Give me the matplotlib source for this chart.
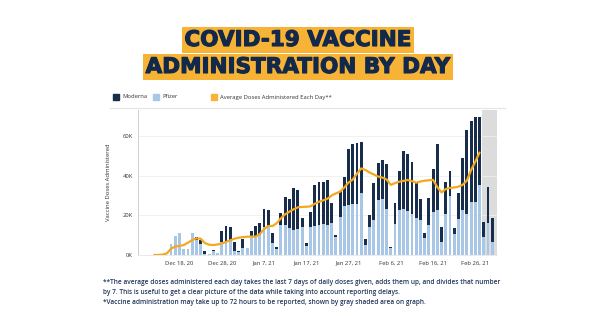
import numpy as np
import matplotlib
matplotlib.use("Agg")
import matplotlib.pyplot as plt
import matplotlib.dates as mdates
import matplotlib.patheffects as pe
from matplotlib.patches import Rectangle

# daily doses in thousands, first bar on 2020-12-16
first_day = np.datetime64("2020-12-16")
pfizer = [5.5, 9.5, 11, 3, 3, 11, 7.5, 5.5, 0.6, 0.3,
          1.8, 1.2, 6.5, 7, 7, 2, 1.5, 3.3, 3.4, 9,
          9.5, 10, 14, 14, 6, 3.2, 15, 15, 13.5, 12.5,
          13, 14, 4.5, 14, 14.5, 15, 15.6, 15, 16, 9.3,
          19, 24.7, 25.2, 25.6, 25.5, 31, 5, 14.3, 17.8, 27.7,
          28, 23.3, 3.5, 15.5, 22.7, 23.2, 22, 20.5, 18.5, 17.6,
          8.4, 15.1, 21.8, 22.7, 6.3, 20.5, 29.5, 10.5, 18.1, 22.7,
          20.5, 26.5, 26.9, 35.3, 9.2, 16, 6.7]
moderna = [0, 0, 0, 0, 0, 0, 1.5, 2, 1.6, 0,
           0.7, 0, 5.5, 7.5, 7, 4.5, 0.5, 4.7, 0, 3.3,
           5.3, 6.3, 9, 8.7, 5, 1, 6, 14, 14.7, 21,
           19.5, 4.5, 1.4, 7.5, 20.5, 22, 21.4, 22.8, 10, 1,
           13, 14.7, 28, 30.4, 30.8, 25.7, 3.2, 5.8, 18.3, 18.6,
           20, 22.7, 0.5, 10.7, 19.6, 29.3, 28.8, 26.5, 18.5, 10.4,
           2.5, 13.4, 21.4, 33.2, 7.7, 16.1, 12.9, 2.9, 13.1, 26,
           42.5, 41, 42.8, 34.4, 7.3, 18, 11.8]

# 7-day average, starts 2020-12-12 and ends 2021-02-27
avg_first_day = np.datetime64("2020-12-12")
avg_doses = [0, 0, 0.2, 0.8,
             3.2, 4.3, 4.6, 5, 6.2, 7.5, 8.4, 8.2, 6, 5.2,
             5, 5.3, 5.8, 6.6, 7.4, 8.2, 8.7, 9, 9.2, 9.3,
             9.2, 10.5, 13, 14.6, 14.6, 16, 18.5, 20.5, 21.8, 23,
             24, 24.2, 24.3, 24.5, 25.8, 26.8, 27.5, 28.3, 30, 31,
             31.9, 34, 36.5, 38, 41, 43.6, 42.8, 41.5, 40.5, 39.5,
             39, 38, 35.3, 36.2, 36.9, 37.3, 37.8, 37.2, 36.4, 37,
             37.4, 37.6, 37.8, 34.2, 31.5, 33.2, 33.8, 34, 34.4, 35.3,
             37.5, 42.8, 47, 51.6]

# last three days still being reported
pending_days = 3

tick_days = ["2020-12-18", "2020-12-28", "2021-01-07", "2021-01-17",
             "2021-01-27", "2021-02-06", "2021-02-16", "2021-02-26"]
y_ticks = [0, 20, 40, 60]

NAVY = "#13294b"
YELLOW = "#f6b335"
DARK = "#182c4c"
LIGHT = "#a8c6e6"
LINE = "#f3a81e"

days = first_day + np.arange(len(pfizer))
avg_days = avg_first_day + np.arange(len(avg_doses))
bar_x = days.astype("datetime64[D]").astype("O")
avg_x = avg_days.astype("datetime64[D]").astype("O")

plt.rcParams["font.family"] = ["Open Sans", "DejaVu Sans"]

fig = plt.figure(figsize=(5.96, 3.33), dpi=100)
fig.patch.set_facecolor("white")


def fx(px):
    return px / 596


def fy(py):
    return 1 - py / 333


# title on two highlighted strips; a thin stroke makes the bold face heavier
title_font = dict(family="DejaVu Sans", fontweight="bold",
                  fontsize=15.5, color=NAVY, ha="center", va="center",
                  path_effects=[pe.withStroke(linewidth=0.8, foreground=NAVY)])
fig.text(0.5, fy(40), "COVID-19 VACCINE",
         bbox=dict(boxstyle="square,pad=0.12", fc=YELLOW, ec="none"), **title_font)
fig.text(0.5, fy(67), "ADMINISTRATION BY DAY",
         bbox=dict(boxstyle="square,pad=0.12", fc=YELLOW, ec="none"), **title_font)

# legend row
legend_items = [(113, DARK, "Moderna"), (153, LIGHT, "Pfizer"),
                (211, YELLOW, "Average Doses Administered Each Day**")]
for px, color, label in legend_items:
    fig.add_artist(Rectangle((fx(px), fy(100)), fx(6), 6 / 333, color=color,
                             transform=fig.transFigure))
    fig.text(fx(px + 9), fy(97), label, fontsize=4.2, color="#333333",
             va="center", ha="left")
fig.add_artist(plt.Line2D([fx(110), fx(505)], [fy(108.5), fy(108.5)],
                          color="#e4e4e4", lw=0.8, transform=fig.transFigure))

ax = fig.add_axes([fx(138.3), fy(255), fx(497 - 138.3), 145 / 333])
ax.set_facecolor("white")

x_lo = first_day - np.timedelta64(186, "h")
x_hi = first_day + np.timedelta64(77 * 24 + 3, "h")
pending_start = days[-pending_days] - np.timedelta64(12, "h")
ax.axvspan(pending_start.astype("O"), x_hi.astype("O"), color="#dcdcdc", lw=0, zorder=0)

ax.bar(bar_x, pfizer, width=0.68, color=LIGHT, zorder=2)
ax.bar(bar_x, moderna, bottom=pfizer, width=0.68, color=DARK, zorder=2)
ax.plot(avg_x, avg_doses, color=LINE, lw=1.6, zorder=3, solid_capstyle="round")

ax.set_xlim(x_lo.astype("O"), x_hi.astype("O"))
ax.set_ylim(0, 73)
ax.set_yticks(y_ticks)
ax.set_yticklabels([f"{t}K" for t in y_ticks])
ax.set_xticks([np.datetime64(d).astype("O") for d in tick_days])
ax.xaxis.set_major_formatter(mdates.DateFormatter("%b %-d, %y"))
ax.grid(axis="y", color="#efefef", lw=0.6, zorder=0)
ax.set_axisbelow(True)
for side in ("top", "right"):
    ax.spines[side].set_visible(False)
ax.spines["left"].set_color("#cfcfcf")
ax.spines["left"].set_linewidth(0.7)
ax.spines["bottom"].set_color("#e6e6e6")
ax.spines["bottom"].set_linewidth(0.6)
ax.tick_params(length=0, labelsize=4.2, labelcolor="#333333", pad=4)
ax.set_ylabel("Vaccine Doses Administered", fontsize=4.2, color="#333333", labelpad=8)

notes = [
    "**The average doses administered each day takes the last 7 days of daily doses given, "
    "adds them up, and divides that number",
    "by 7. This is useful to get a clear picture of the data while taking into account reporting delays.",
    "*Vaccine administration may take up to 72 hours to be reported, shown by gray shaded area on graph.",
]
for i, line in enumerate(notes):
    fig.text(fx(103), fy(282 + 10 * i), line, fontsize=4.7, fontweight="semibold",
             color="#22365a", va="center", ha="left")

fig.savefig("out.png", dpi=100, facecolor="white")
